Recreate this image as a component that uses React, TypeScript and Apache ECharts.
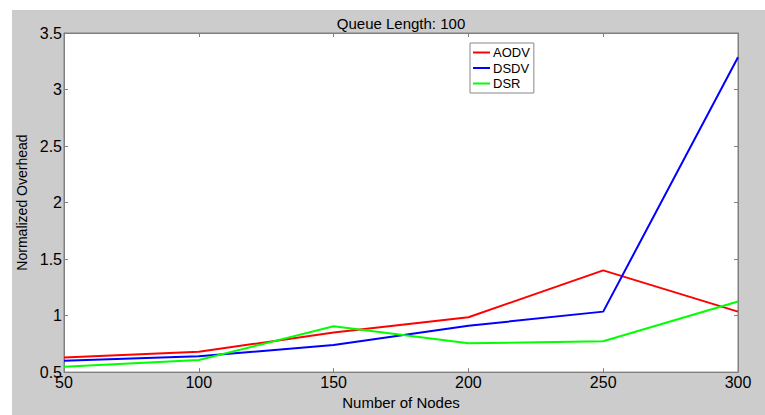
import React, { useEffect, useRef } from "react";
import * as echarts from "echarts";

const nodes = [50, 100, 150, 200, 250, 300];
const aodv = [0.63, 0.68, 0.85, 0.985, 1.40, 1.035];
const dsdv = [0.60, 0.64, 0.74, 0.91, 1.035, 3.285];
const dsr = [0.547, 0.607, 0.905, 0.755, 0.773, 1.125];
const seriesNames = ["AODV", "DSDV", "DSR"];
const seriesColors = ["#ff0000", "#0000ff", "#00ff00"];
const titleText = "Queue Length: 100";
const xName = "Number of Nodes";
const yName = "Normalized Overhead";

const FONT = "'Liberation Sans', Arial, Helvetica, sans-serif";

export default function App() {
  const ref = useRef<HTMLDivElement>(null);
  useEffect(() => {
    if (!ref.current) return;
    const chart = echarts.init(ref.current, null, { renderer: "svg" });
    const values = [aodv, dsdv, dsr];
    const tickStyle = { show: true, inside: true, length: 4, lineStyle: { color: "#808080", width: 1 } };
    const lineStyleAxis = { show: true, lineStyle: { color: "#808080", width: 1 } };
    chart.setOption({
      animation: false,
      backgroundColor: "#ffffff",
      textStyle: { fontFamily: FONT },
      graphic: [
        {
          type: "rect",
          z: -10,
          shape: { x: 12, y: 10, width: 753, height: 405 },
          style: { fill: "#cccccc" },
          silent: true,
        },
        {
          type: "text",
          x: 401,
          y: 23,
          style: {
            text: titleText,
            fill: "#000",
            font: `15px ${FONT}`,
            align: "center",
            verticalAlign: "middle",
          },
        },
      ],
      grid: {
        left: 64,
        right: 27,
        top: 33,
        bottom: 32.5,
        show: true,
        backgroundColor: "#ffffff",
        borderColor: "#808080",
        borderWidth: 1,
      },
      legend: {
        orient: "vertical",
        left: 470,
        top: 43,
        backgroundColor: "#ffffff",
        borderColor: "#888888",
        borderWidth: 1,
        borderRadius: 0,
        padding: [3, 4, 3, 3],
        itemWidth: 17,
        itemHeight: 2,
        itemGap: 2.5,
        icon: "rect",
        data: seriesNames,
        textStyle: { fontSize: 13, lineHeight: 12, color: "#000", fontFamily: FONT, padding: [0, 0, 0, -2] },
      },
      xAxis: [
        {
          type: "value",
          min: 50,
          max: 300,
          interval: 50,
          position: "bottom",
          name: xName,
          nameLocation: "middle",
          nameGap: 19,
          nameTextStyle: { fontSize: 15, color: "#000", fontFamily: FONT },
          axisLine: lineStyleAxis,
          axisTick: tickStyle,
          axisLabel: { fontSize: 16, color: "#000", margin: 2, fontFamily: FONT },
          splitLine: { show: false },
        },
        {
          type: "value",
          min: 50,
          max: 300,
          interval: 50,
          position: "top",
          axisLine: lineStyleAxis,
          axisTick: tickStyle,
          axisLabel: { show: false },
          splitLine: { show: false },
        },
      ],
      yAxis: [
        {
          type: "value",
          min: 0.5,
          max: 3.5,
          interval: 0.5,
          position: "left",
          name: yName,
          nameLocation: "middle",
          nameGap: 32,
          nameRotate: 90,
          nameTextStyle: { fontSize: 14, color: "#000", fontFamily: FONT },
          axisLine: lineStyleAxis,
          axisTick: tickStyle,
          axisLabel: { fontSize: 16, color: "#000", margin: 2, fontFamily: FONT },
          splitLine: { show: false },
        },
        {
          type: "value",
          min: 0.5,
          max: 3.5,
          interval: 0.5,
          position: "right",
          axisLine: lineStyleAxis,
          axisTick: tickStyle,
          axisLabel: { show: false },
          splitLine: { show: false },
        },
      ],
      series: seriesNames.map((name, i) => ({
        name,
        type: "line",
        xAxisIndex: 0,
        yAxisIndex: 0,
        showSymbol: false,
        symbol: "none",
        color: seriesColors[i],
        lineStyle: { color: seriesColors[i], width: 2 },
        data: nodes.map((n, j) => [n, values[i][j]]),
      })),
    });
    return () => chart.dispose();
  }, []);
  return (
    <div
      ref={ref}
      style={{ position: "absolute", left: 0, top: 0, width: 765, height: 415 }}
    />
  );
}
